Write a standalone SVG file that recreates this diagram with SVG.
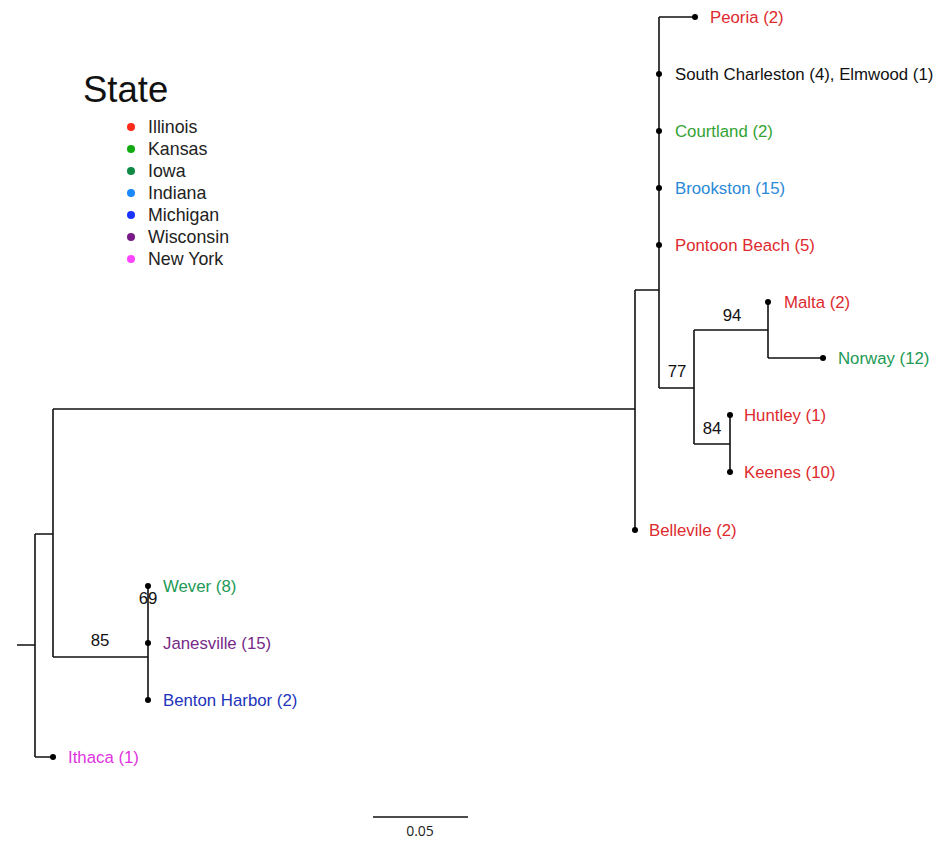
<svg xmlns="http://www.w3.org/2000/svg" width="945" height="841" viewBox="0 0 945 841">
<style>
text{font-family:"Liberation Sans",Arial,sans-serif;}
.lbl{font-size:16.8px;}
.bs{font-size:16.8px;fill:#111;}
.leg{font-size:17.8px;fill:#222;}
.br{fill:none;stroke:#111;stroke-width:1.6;}
.il{fill:#dd2a2e;} .ks{fill:#33a333;} .ia{fill:#229955;} .in{fill:#2a88d8;} .mi{fill:#2233bb;} .wi{fill:#772a88;} .ny{fill:#e033e0;} .bk{fill:#111;}
</style>
<rect width="945" height="841" fill="#fff"/>
<g id="legend">
<text x="83" y="102" style="font-size:36.5px" fill="#111">State</text>
<circle cx="131" cy="127" r="4" fill="#ff2a1a"/><text class="leg" x="148" y="133">Illinois</text>
<circle cx="131" cy="149" r="4" fill="#11aa11"/><text class="leg" x="148" y="155">Kansas</text>
<circle cx="131" cy="171" r="4" fill="#118844"/><text class="leg" x="148" y="177">Iowa</text>
<circle cx="131" cy="193" r="4" fill="#1a88ff"/><text class="leg" x="148" y="199">Indiana</text>
<circle cx="131" cy="215" r="4" fill="#1a33ff"/><text class="leg" x="148" y="221">Michigan</text>
<circle cx="131" cy="237" r="4" fill="#7a1a88"/><text class="leg" x="148" y="243">Wisconsin</text>
<circle cx="131" cy="259" r="4" fill="#ff44ff"/><text class="leg" x="148" y="265">New York</text>
</g>
<g id="connectors">
<path class="br" d="M17 645H35M35 534V757M35 534H53M35 757H53M53 409V657M53 409H635M53 657H148M148 586V700"/>
<path class="br" d="M635 290V530M635 290H659M659 17V388M659 17H695M659 388H694M694 330V444M694 330H768M768 302V358M768 358H823M694 444H730M730 415V472"/>
<line x1="373" y1="817" x2="468" y2="817" stroke="#111" stroke-width="1.4"/>
<text x="420" y="836" text-anchor="middle" style="font-family:'Open Sans',sans-serif;font-size:14px" fill="#222">0.05</text>
</g>
<g id="support">
<text class="bs" x="100" y="646" text-anchor="middle">85</text>
<text class="bs" x="148" y="604" text-anchor="middle">69</text>
<text class="bs" x="677" y="377" text-anchor="middle">77</text>
<text class="bs" x="732" y="321" text-anchor="middle">94</text>
<text class="bs" x="712" y="434" text-anchor="middle">84</text>
</g>
<g id="n-peoria"><circle cx="695" cy="17" r="3"/><text class="lbl il" x="710" y="23">Peoria (2)</text></g>
<g id="n-southcharleston"><circle cx="659" cy="74" r="3"/><text class="lbl bk" x="675" y="80">South Charleston (4), Elmwood (1)</text></g>
<g id="n-courtland"><circle cx="659" cy="131" r="3"/><text class="lbl ks" x="675" y="137">Courtland (2)</text></g>
<g id="n-brookston"><circle cx="659" cy="188" r="3"/><text class="lbl in" x="675" y="194">Brookston (15)</text></g>
<g id="n-pontoon"><circle cx="659" cy="245" r="3"/><text class="lbl il" x="675" y="251">Pontoon Beach (5)</text></g>
<g id="n-malta"><circle cx="768" cy="302" r="3"/><text class="lbl il" x="784" y="308">Malta (2)</text></g>
<g id="n-norway"><circle cx="823" cy="358" r="3"/><text class="lbl ia" x="838" y="364">Norway (12)</text></g>
<g id="n-huntley"><circle cx="730" cy="415" r="3"/><text class="lbl il" x="744" y="421">Huntley (1)</text></g>
<g id="n-keenes"><circle cx="730" cy="472" r="3"/><text class="lbl il" x="744" y="478">Keenes (10)</text></g>
<g id="n-bellevile"><circle cx="635" cy="530" r="3"/><text class="lbl il" x="649" y="536">Bellevile (2)</text></g>
<g id="n-wever"><circle cx="148" cy="586" r="3"/><text class="lbl ia" x="163" y="592">Wever (8)</text></g>
<g id="n-janesville"><circle cx="148" cy="643" r="3"/><text class="lbl wi" x="163" y="649">Janesville (15)</text></g>
<g id="n-benton"><circle cx="148" cy="700" r="3"/><text class="lbl mi" x="163" y="706">Benton Harbor (2)</text></g>
<g id="n-ithaca"><circle cx="53" cy="757" r="3"/><text class="lbl ny" x="68" y="763">Ithaca (1)</text></g>
</svg>
